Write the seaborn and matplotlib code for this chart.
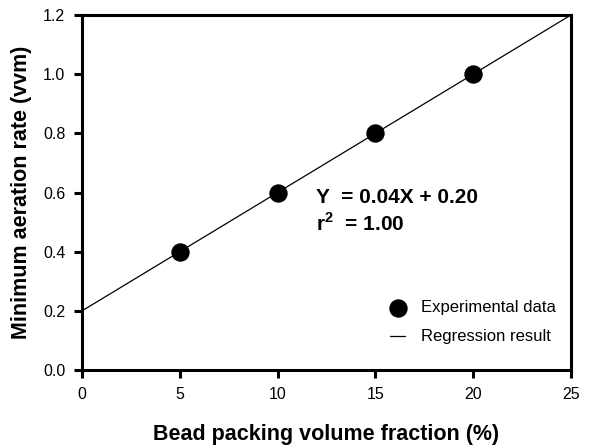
import matplotlib
matplotlib.use("Agg")
import matplotlib.pyplot as plt
import seaborn as sns
import numpy as np
import pandas as pd

fraction = [5, 10, 15, 20]
aeration = [0.40, 0.60, 0.80, 1.00]
x_ticks = [0, 5, 10, 15, 20, 25]
y_ticks = [0.0, 0.2, 0.4, 0.6, 0.8, 1.0, 1.2]

sns.set_theme(style="ticks")
plt.rcParams['font.family'] = ['Liberation Sans', 'DejaVu Sans']
plt.rcParams['text.color'] = 'black'
plt.rcParams['axes.labelcolor'] = 'black'
plt.rcParams['mathtext.fontset'] = 'custom'
plt.rcParams['mathtext.rm'] = 'Liberation Sans'
plt.rcParams['mathtext.bf'] = 'Liberation Sans:bold'

df = pd.DataFrame({"x": fraction, "y": aeration})

fig = plt.figure(figsize=(6.01, 4.48), dpi=100)
ax = fig.add_axes([0.1364, 0.174, 0.8136, 0.7925])
ax.set_xlim(0, 25)
ax.set_ylim(0, 1.2)

sns.regplot(data=df, x="x", y="y", ax=ax, scatter=False, ci=None,
            truncate=False, line_kws=dict(color="black", lw=0.9),
            label="Regression result")
sns.scatterplot(data=df, x="x", y="y", ax=ax, s=150, color="black",
                edgecolor="black", zorder=5, label="Experimental data")
ax.set_xlim(0, 25)
ax.set_ylim(0, 1.2)

ax.set_xticks(x_ticks)
ax.set_xticklabels([str(t) for t in x_ticks])
ax.set_yticks(y_ticks)
ax.set_yticklabels([f"{t:.1f}" for t in y_ticks])
for s in ax.spines.values():
    s.set_visible(True)
    s.set_linewidth(2.2)
    s.set_color("black")
ax.tick_params(direction="out", length=6, width=2.2, labelsize=11.5,
               colors="black", pad=6)

ax.set_xlabel("Bead packing volume fraction (%)", fontsize=15.5,
              fontweight="bold", labelpad=16, color="black")
ax.set_ylabel("Minimum aeration rate (vvm)", fontsize=15.5,
              fontweight="bold", labelpad=8, color="black")

slope, intercept = np.polyfit(fraction, aeration, 1)
r2 = np.corrcoef(fraction, aeration)[0, 1] ** 2
ax.text(0.478, 0.487, f"Y  = {slope:.2f}X + {intercept:.2f}", transform=ax.transAxes,
        fontsize=15, fontweight="bold", va="center", color="black",
        family="Liberation Sans")
ax.text(0.478, 0.413, "r$^\\mathbf{2}$  = " + f"{r2:.2f}", transform=ax.transAxes,
        fontsize=15, fontweight="bold", va="center", color="black",
        family="Liberation Sans")

h, l = ax.get_legend_handles_labels()
order = [l.index("Experimental data"), l.index("Regression result")]
leg = ax.legend([h[i] for i in order], [l[i] for i in order], loc="lower right",
                bbox_to_anchor=(1.0, 0.03), frameon=False, fontsize=12,
                handlelength=0.9, handletextpad=0.95, labelspacing=0.85)
for t in leg.get_texts():
    t.set_color("black")

fig.savefig("out.png", dpi=100)
